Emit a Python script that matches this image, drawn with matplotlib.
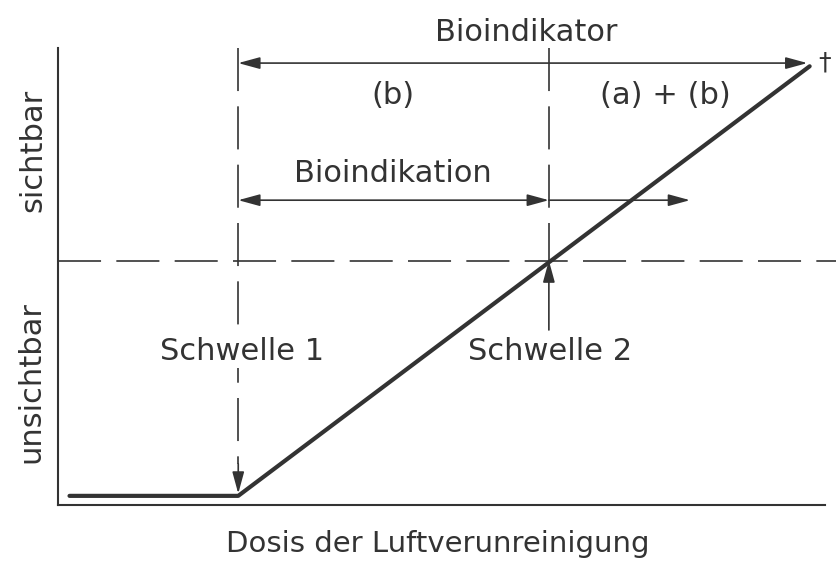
import numpy as np
import matplotlib.pyplot as plt

# -----------------------------
# Schematic data (dose 0..100, response 0..100)
# -----------------------------
curve_x = [1.5, 23.5, 98.0]       # dose
curve_y = [2.0, 2.0, 96.0]        # visible damage
schwelle_x = [23.5, 64.0]         # threshold 1, threshold 2
sicht_y = 53.5                    # visibility limit
indikator_y = 96.7                # "Bioindikator" span
indikation_y = 66.7               # "Bioindikation" span
indikation_end = 82.4

ink = "#333333"
W, H = 836, 561

fig = plt.figure(figsize=(W / 100, H / 100), dpi=100)
ax = fig.add_axes([58 / W, (H - 505) / H, (825 - 58) / W, (505 - 48) / H])
ax.set_xlim(0, 100)
ax.set_ylim(0, 100)
for s in ["top", "right"]:
    ax.spines[s].set_visible(False)
for s in ["left", "bottom"]:
    ax.spines[s].set_color(ink)
    ax.spines[s].set_linewidth(1.5)
ax.set_xticks([])
ax.set_yticks([])

dash = (0, (31 / 1.2, 11 / 1.2))

# dose-response curve
ax.plot(curve_x, curve_y, color=ink, lw=3, solid_capstyle="round", zorder=5)

# visibility limit
ax.plot([0, 101.5], [sicht_y, sicht_y], color=ink, lw=1.2, ls=dash, clip_on=False)

# vertical dashed lines
ax.plot([schwelle_x[0]] * 2, [100, 9], color=ink, lw=1.2, ls=dash, clip_on=False)
ax.plot([schwelle_x[1]] * 2, [100, sicht_y], color=ink, lw=1.2, ls=dash, clip_on=False)


def arrow(x0, y0, x1, y1, style="-|>"):
    ax.annotate("", xy=(x1, y1), xytext=(x0, y0),
                arrowprops=dict(arrowstyle=style + ",head_length=1.1,head_width=0.3",
                                color=ink, lw=1.2, shrinkA=0, shrinkB=0,
                                mutation_scale=12),
                annotation_clip=False)


# Schwelle arrows
arrow(schwelle_x[0], 9, schwelle_x[0], curve_y[0] + 0.5)
arrow(schwelle_x[1], 38.3, schwelle_x[1], sicht_y)

# Bioindikator / Bioindikation spans
arrow(schwelle_x[0], indikator_y, curve_x[-1] - 0.3, indikator_y, "<|-|>")
arrow(schwelle_x[0], indikation_y, schwelle_x[1], indikation_y, "<|-|>")
arrow(schwelle_x[1], indikation_y, indikation_end, indikation_y)

fs = 22
txt = dict(color=ink, fontsize=fs, ha="center", va="center")
ax.text(61, 103.5, "Bioindikator", **txt, clip_on=False)
ax.text(43.7, 89.5, "(b)", **txt)
ax.text(79.2, 89.5, "(a) + (b)", **txt)
ax.text(43.7, 72.5, "Bioindikation", **txt)
box = dict(facecolor="white", edgecolor="none", pad=1)
ax.text(24.0, 33.5, "Schwelle 1", bbox=box, **txt)
ax.text(64.2, 33.5, "Schwelle 2", **txt)
ax.text(100.0, 96.8, "†", color=ink, fontsize=18, ha="center", va="center", clip_on=False)

ax.text(-3.3, 77.5, "sichtbar", rotation=90, **txt, clip_on=False)
ax.text(-3.6, 27, "unsichtbar", rotation=90, **txt, clip_on=False)
ax.text(49.5, -8.6, "Dosis der Luftverunreinigung", color=ink, fontsize=21,
        ha="center", va="center", clip_on=False)

plt.savefig("out.png", dpi=100)
